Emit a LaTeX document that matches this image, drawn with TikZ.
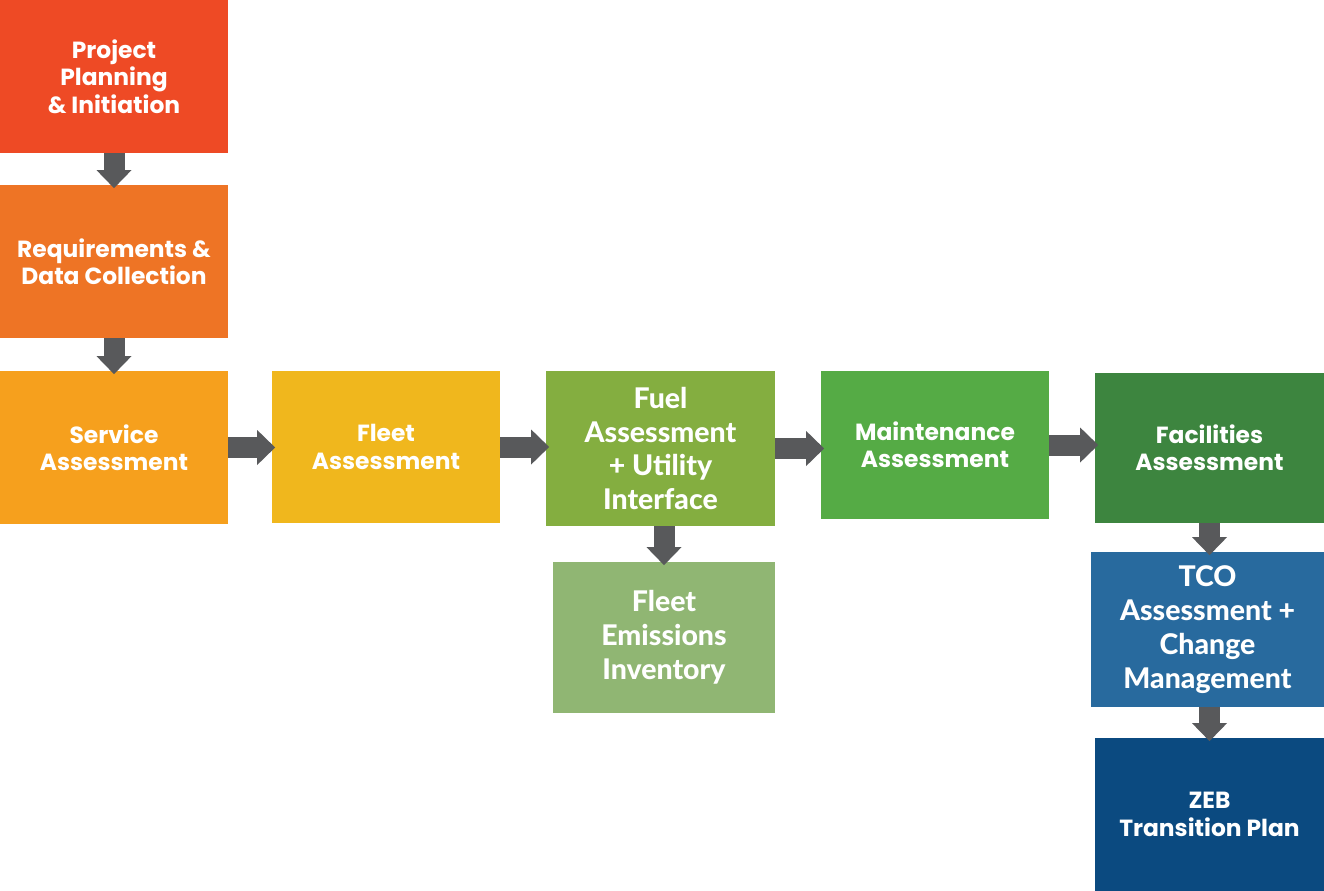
\documentclass[tikz,border=0pt]{standalone}
\usepackage{fontspec}
\setmainfont{Poppins}
\newfontfamily\latofont{Lato}[BoldFont={Lato Heavy}]
\usetikzlibrary{arrows.meta}

\definecolor{projred}{HTML}{EE4A25}
\definecolor{reqorange}{HTML}{EE7425}
\definecolor{servorange}{HTML}{F6A01D}
\definecolor{fleetyellow}{HTML}{F0B71D}
\definecolor{fuelgreen}{HTML}{84AE40}
\definecolor{emisgreen}{HTML}{90B673}
\definecolor{maintgreen}{HTML}{55AB45}
\definecolor{facilgreen}{HTML}{3D853F}
\definecolor{tcoblue}{HTML}{286A9E}
\definecolor{zebblue}{HTML}{0B4A80}
\definecolor{arrowgray}{HTML}{58595B}

\begin{document}
\begin{tikzpicture}[
  box/.style={rectangle,inner sep=0pt,align=center,text=white,
    minimum width=4.56cm,minimum height=3.06cm,
    font=\bfseries\fontsize{13.3}{15.6}\selectfont},
  bigbox/.style={box,font=\latofont\bfseries\fontsize{16.2}{19.3}\selectfont},
  flow/.style={draw=arrowgray,line width=0.42cm,shorten >=-0.07cm,
    -{Triangle[width=0.70cm,length=0.36cm,line width=0pt]}}
]
\useasboundingbox (0,0) rectangle (26.48,-17.82);

% left column
\node[box,fill=projred] (proj) at (2.28,-1.53) {Project\\Planning\\\& Initiation};
\node[box,fill=reqorange] (req) at (2.28,-5.23) {Requirements \&\\Data Collection};
\node[box,fill=servorange] (serv) at (2.28,-8.95) {Service\\Assessment};

% main row
\node[box,fill=fleetyellow,minimum height=3.04cm] (fleet) at (7.72,-8.94) {Fleet\\Assessment};
\node[bigbox,fill=fuelgreen,minimum width=4.58cm,minimum height=3.10cm] (fuel) at (13.21,-8.97)
  {Fuel\\Assessment\\+ Utility\\Interface};
\node[bigbox,fill=emisgreen,minimum width=4.44cm,minimum height=3.02cm] (emis) at (13.28,-12.75)
  {Fleet\\Emissions\\Inventory};
\node[box,fill=maintgreen,minimum height=2.96cm] (maint) at (18.70,-8.90) {Maintenance\\Assessment};
\node[box,fill=facilgreen,minimum width=4.58cm,minimum height=3.00cm] (facil) at (24.19,-8.96)
  {Facilities\\Assessment};

% right column
\node[bigbox,fill=tcoblue,minimum width=4.66cm,minimum height=3.10cm] (tco) at (24.15,-12.59)
  {TCO\\Assessment +\\Change\\Management};
\node[box,fill=zebblue,minimum width=4.58cm] (zeb) at (24.19,-16.29) {ZEB\\Transition Plan};

\draw[flow] (proj.south) -- (req.north);
\draw[flow] (req.south) -- (serv.north);
\draw[flow] (serv.east) -- (serv.east -| fleet.west);
\draw[flow] (fleet.east) -- (fleet.east -| fuel.west);
\draw[flow] (fuel.east) -- (fuel.east -| maint.west);
\draw[flow] (maint.east) -- (maint.east -| facil.west);
\draw[flow] (emis.north |- fuel.south) -- (emis.north);
\draw[flow] (facil.south) -- (facil.south |- tco.north);
\draw[flow] (zeb.north |- tco.south) -- (zeb.north);
\end{tikzpicture}
\end{document}
